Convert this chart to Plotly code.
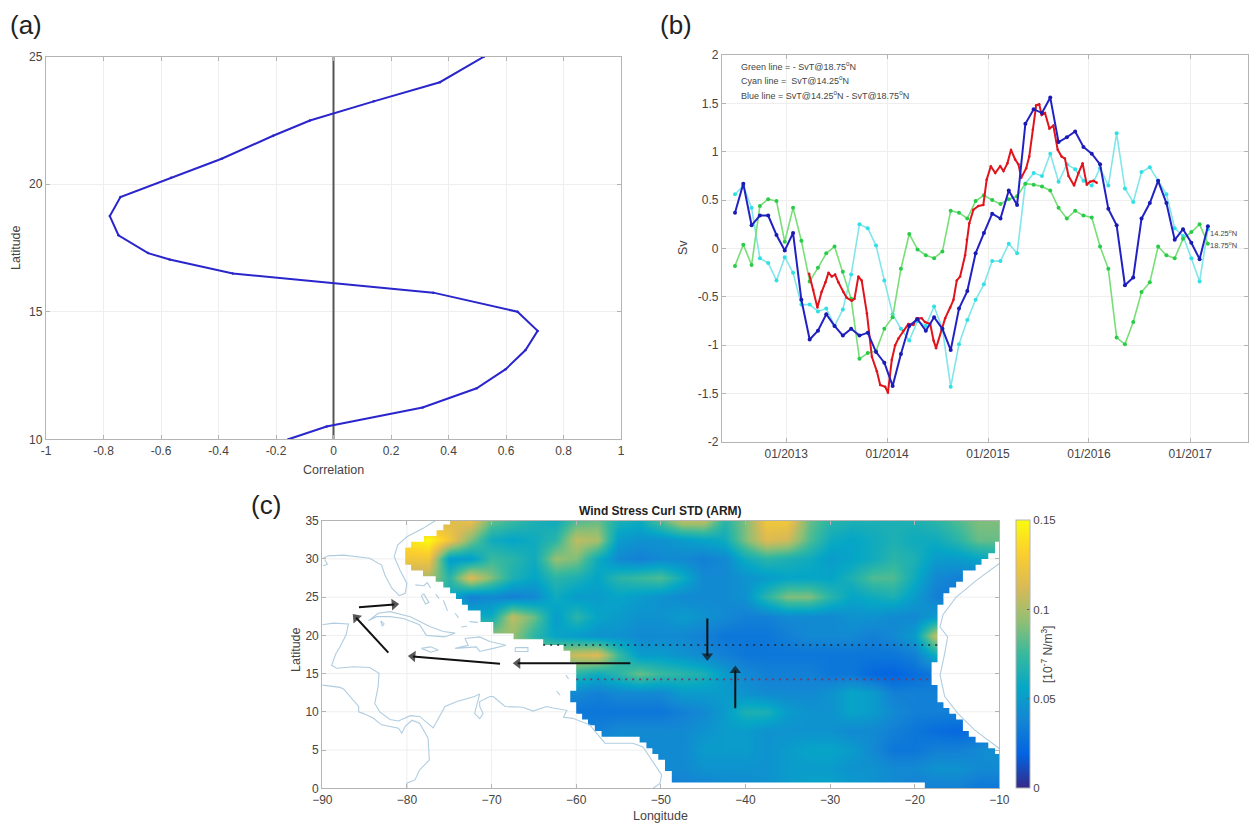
import pandas as pd
import plotly.graph_objects as go

W, H = 1251, 824
FONT = "Liberation Sans"
TXT = "#444444"

# ---------- panel (a) ----------
corr_lat = [10, 10.5, 11.25, 12, 12.75, 13.5, 14.25, 15, 15.75, 16.5, 17.05, 17.3, 18, 18.75, 19.5, 20.25, 21, 21.9, 22.5, 23.25, 24, 25]
corr_val = [-0.157, -0.024, 0.31, 0.498, 0.599, 0.668, 0.71, 0.64, 0.347, -0.35, -0.57, -0.645, -0.748, -0.778, -0.741, -0.565, -0.389, -0.21, -0.082, 0.14, 0.37, 0.523]

# ---------- panel (b) ----------
blue_sv = [0.37, 0.67, 0.24, 0.34, 0.34, 0.14, -0.02, 0.16, -0.53, -0.94, -0.85, -0.68, -0.80, -0.90, -0.83, -0.90, -0.87, -1.07, -1.18, -1.42,
           -1.09, -0.80, -0.73, -0.85, -0.71, -0.83, -1.05, -0.62, -0.44, -0.05, 0.16, 0.36, 0.31, 0.60, 0.45, 1.29, 1.44, 1.40, 1.56, 1.10,
           1.15, 1.21, 1.05, 0.98, 0.87, 0.41, 0.24, -0.38, -0.30, 0.31, 0.47, 0.70, 0.47, 0.09, 0.20, 0.06, -0.11, 0.23]
green_sv = [-0.18, 0.04, -0.17, 0.44, 0.51, 0.49, 0.07, 0.42, 0.08, -0.34, -0.20, -0.05, 0.02, -0.24, -0.52, -1.14, -1.08, -1.06, -0.83, -0.71,
            -0.21, 0.15, -0.01, -0.07, -0.10, -0.03, 0.39, 0.37, 0.31, 0.49, 0.55, 0.50, 0.46, 0.51, 0.54, 0.67, 0.66, 0.64, 0.60, 0.42,
            0.31, 0.39, 0.34, 0.32, 0.02, -0.21, -0.92, -0.99, -0.76, -0.45, -0.35, 0.02, -0.07, -0.10, 0.10, 0.17, 0.25, 0.05]
cyan_sv = [0.56, 0.65, 0.42, -0.10, -0.15, -0.33, -0.09, -0.25, -0.58, -0.58, -0.65, -0.62, -0.80, -0.63, -0.27, 0.25, 0.21, 0.03, -0.33, -0.68,
           -0.83, -0.95, -0.75, -0.80, -0.60, -0.83, -1.43, -0.99, -0.74, -0.53, -0.37, -0.13, -0.13, 0.05, -0.05, 0.67, 0.78, 0.75, 0.98, 0.69,
           0.87, 0.82, 0.70, 0.65, 0.83, 0.65, 1.19, 0.62, 0.48, 0.79, 0.84, 0.70, 0.56, 0.21, 0.13, -0.10, -0.34, 0.20]
month_dates = pd.date_range("2012-06-30", periods=len(blue_sv), freq="30D")

red_day = [83, 98, 113, 128, 142, 153, 165, 177, 189, 207, 219, 237, 247, 261, 273, 292, 310, 328, 340, 358, 368, 382, 394, 406, 424, 442, 460, 472, 490, 502,
           521, 533, 542, 563, 575, 593, 605, 617, 629, 647, 653, 662, 677, 695, 713, 725, 740, 756, 774, 786, 800, 813, 828, 840, 850, 868, 879, 892, 904, 915,
           924, 936, 952, 966, 982, 996, 1008, 1021, 1041, 1057, 1072, 1087, 1099, 1111, 1123]
red_sv = [-0.26, -0.43, -0.61, -0.45, -0.35, -0.25, -0.29, -0.27, -0.35, -0.45, -0.51, -0.54, -0.52, -0.29, -0.33, -0.67, -1.12, -1.27, -1.41, -1.43, -1.49, -1.15, -1.0, -0.93, -0.85, -0.78, -0.79, -0.72, -0.72, -0.76,
          -0.78, -0.95, -1.03, -0.84, -0.72, -0.61, -0.53, -0.33, -0.29, -0.07, 0.09, 0.26, 0.40, 0.44, 0.45, 0.71, 0.85, 0.78, 0.85, 0.80, 0.88, 1.02, 0.92, 0.87, 0.73, 0.83, 0.95, 1.23, 1.48, 1.49,
          1.38, 1.40, 1.24, 1.27, 1.02, 0.95, 0.93, 0.75, 0.65, 0.78, 0.88, 0.66, 0.69, 0.70, 0.68]
red_dates = pd.Timestamp("2013-01-01") + pd.to_timedelta(red_day, unit="D")

year_ticks = ["2013-01-01", "2014-01-01", "2015-01-01", "2016-01-01", "2017-01-01"]

# ---------- panel (c) ----------
grid_lon = [-80, -77.5, -75, -72.5, -70, -67.5, -65, -62.5, -60, -57.5, -55, -52.5, -50, -47.5, -45, -42.5, -40, -37.5, -35, -32.5, -30, -27.5, -25, -22.5, -20, -17.5, -15, -12.5, -10]
grid_lat = [0, 2.5, 5, 7.5, 10, 12.5, 15, 17.5, 20, 22.5, 25, 27.5, 30, 32.5, 35]
std_00 = [.04]*12 + [.03, .035, .035, .04, .04, .045, .05, .055, .055, .05, .045, .04, .035, .035, .035, .03, .03]
std_02 = [.04]*12 + [.04, .04, .045, .045, .045, .045, .05, .05, .05, .045, .045, .04, .04, .045, .045, .04, .04]
std_05 = [.04]*12 + [.04, .04, .05, .05, .05, .045, .05, .055, .055, .05, .04, .03, .03, .035, .035, .04, .045]
std_07 = [.035]*9 + [.035, .04, .04, .04, .04, .045, .05, .05, .045, .045, .045, .045, .04, .04, .035, .03, .025, .022, .025, .03]
std_10 = [.03]*8 + [.03, .03, .03, .03, .03, .035, .04, .05, .065, .065, .05, .045, .045, .055, .05, .04, .035, .035, .035, .035, .035]
std_12 = [.04]*7 + [.04, .04, .035, .04, .04, .04, .05, .05, .05, .045, .04, .04, .04, .045, .055, .05, .035, .035, .035, .04, .04, .04]
std_15 = [.06]*7 + [.06, .07, .06, .07, .085, .075, .07, .065, .05, .04, .035, .035, .035, .03, .03, .022, .02, .025, .03, .03, .03, .03]
std_17 = [.1]*7 + [.1, .11, .115, .075, .05, .05, .045, .04, .035, .03, .03, .03, .03, .03, .03, .03, .03, .035, .06, .06, .06, .06]
std_20 = [.095]*5 + [.095, .07, .055, .05, .045, .045, .04, .04, .04, .035, .03, .03, .03, .035, .04, .04, .04, .035, .04, .05, .105, .1, .1, .1]
std_22 = [.06]*5 + [.105, .085, .05, .07, .055, .05, .045, .045, .05, .045, .04, .035, .035, .04, .04, .04, .045, .045, .04, .04, .05, .05, .05, .05]
std_25 = [.08, .08, .06, .035, .04, .035, .04, .06, .05, .05, .055, .05, .045, .04, .04, .04, .045, .07, .09, .09, .07, .055, .06, .065, .05, .035, .03, .03, .03]
std_27 = [.1, .1, .07, .115, .09, .065, .055, .07, .065, .055, .07, .075, .08, .06, .04, .04, .045, .05, .055, .055, .055, .065, .08, .08, .06, .04, .035, .035, .04]
std_30 = [.125, .125, .05, .05, .075, .07, .06, .095, .09, .06, .04, .035, .04, .04, .035, .04, .06, .07, .065, .06, .05, .055, .06, .07, .065, .05, .05, .055, .06]
std_32 = [.14, .15, .125, .09, .06, .055, .06, .07, .105, .10, .05, .045, .045, .05, .055, .06, .09, .115, .11, .08, .06, .055, .06, .065, .06, .06, .07, .085, .085]
std_35 = [.11, .11, .115, .12, .085, .075, .065, .06, .08, .085, .065, .06, .08, .105, .105, .07, .09, .125, .125, .085, .07, .065, .065, .065, .065, .07, .08, .09, .09]
std_grid = [std_00, std_02, std_05, std_07, std_10, std_12, std_15, std_17, std_20, std_22, std_25, std_27, std_30, std_32, std_35]
std_ticks = [0, 0.05, 0.1, 0.15]
parula = ["#352a87", "#0363e1", "#1485d4", "#06a7c6", "#38b99e", "#92bf73", "#d9ba56", "#fcce2e", "#f9fb0e"]

# white land mask: each row of the 0.75 degree grid (upper latitude edge, edge longitude)
west_top = [35.25, 34.5, 33.75, 33, 32.25, 31.5, 29.25, 28.5, 27.75, 27, 26.25, 25.5, 24.75, 24, 23.25, 21.75, 20.25, 19.5, 18.75, 18, 16.5, 12.75, 11.25, 9.75, 9, 8.25, 7.5, 6.75, 6, 5.25, 4.5, 3.75, 2.25, 0.75]
west_lon = [-74.9, -75.7, -76.5, -78, -79.5, -80.2, -79.5, -78.1, -76.6, -75.7, -74.9, -74.2, -73.5, -72.8, -71.3, -69.8, -67.4, -63.9, -61.5, -60.7, -60, -60.7, -60, -59.3, -58.6, -57.8, -57, -52.5, -51.7, -51, -50.3, -49.5, -48.7, -18.8]
east_top = [32.25, 30.75, 30, 29.25, 28.5, 27, 26.25, 25.5, 24, 16.5, 13.5, 11.25, 10.5, 9.75, 9, 7.5, 6.75, 6, 5.25]
east_lon = [-10.5, -11.3, -12.1, -12.8, -14.3, -15.1, -15.9, -16.6, -17.3, -18, -17.3, -16.6, -15.9, -15.1, -14.3, -13.6, -12.8, -11.3, -10.5]
east_bottom = 4.5

coast_segments = [
    [(-76.5, 35.1), (-78.1, 34), (-80, 32.9), (-81.1, 31.8), (-81.5, 30.3), (-80.8, 28.5), (-80, 26.8), (-80.2, 25.5), (-80.9, 25.2), (-81.8, 26.2), (-82.6, 27.9), (-83, 29.2), (-84.4, 30.1), (-86, 30.3), (-87.5, 30.5), (-89.3, 30.4), (-89.9, 30.1)],
    [(-89.7, 29.9), (-89.4, 29.3), (-89.9, 29.1)],
    [(-90, 21.4), (-88.7, 21.6), (-86.9, 21.5), (-87.2, 20.05), (-87.9, 18.5), (-88.4, 17.6), (-88.9, 16.1), (-88.3, 15.7), (-86.3, 15.9), (-84.4, 15.8), (-83.3, 15.05), (-83.4, 13.3), (-83.8, 11.1), (-83.2, 10.0), (-82, 9.0), (-81, 8.8), (-79.6, 9.5), (-78.5, 9.4), (-76.9, 7.9), (-75.5, 10.7), (-74.1, 11.35), (-72, 12), (-71.4, 12.35), (-71.8, 10.7), (-72, 9.8), (-71.4, 9.1), (-71, 9.8), (-71.4, 10.7), (-71.4, 11.35), (-70.2, 12), (-69.8, 12), (-68.4, 10.7), (-66.3, 10.6), (-65.1, 10.1), (-63.5, 10.7), (-62.7, 10.5), (-61.1, 10.2), (-61.5, 9.3), (-60.4, 9.15), (-58.4, 8.3), (-56.6, 5.9), (-53.3, 5.9), (-52.1, 5.4), (-49.9, 1.75), (-50.1, 0.65), (-50.9, 0)],
    [(-90, 13.5), (-87.9, 13.2), (-87.5, 13), (-85.7, 10.7), (-85.7, 10), (-85.2, 9.8), (-84, 9.2), (-83, 8.3), (-81, 7.85), (-80.6, 7.2), (-80.2, 8.1), (-79.4, 8.9), (-78.5, 8.5), (-77.5, 6.55), (-77.35, 3.7), (-78.5, 2.4), (-79.05, 1.1), (-80, 0.67), (-80, 0)],
    [(-10, 29.4), (-12.7, 27.2), (-15.1, 25), (-16.65, 22.7), (-17, 21.1), (-16.1, 19.8), (-16.45, 17.65), (-17, 14.8), (-16.45, 12), (-14.9, 9.8), (-12.9, 7.6), (-10, 5.2)],
    [(-84.56, 21.9), (-83.4, 22.9), (-82, 23.1), (-79.6, 22.45), (-77.3, 21.15), (-75.7, 20.5), (-74.3, 20.3), (-75.5, 19.8), (-77.7, 20), (-78.5, 21.4), (-80.4, 22.2), (-82, 22.45), (-83.6, 22.45), (-84.56, 21.9)],
    [(-78.3, 18.3), (-77.2, 18.5), (-76.3, 18.1), (-77.2, 17.8), (-78.3, 18.3)],
    [(-73.15, 19.6), (-71.4, 19.8), (-70.2, 19.2), (-68.3, 18.7), (-69.8, 18.3), (-71.4, 17.9), (-71.8, 18.5), (-74.3, 18.3), (-72.75, 18.7), (-73.15, 19.6)],
    [(-67.2, 18.4), (-65.7, 18.4), (-65.7, 17.9), (-67.2, 17.9), (-67.2, 18.4)],
    [(-79, 26.6), (-78, 26.5), (-77.6, 26.9), (-77.2, 26.2)],
    [(-78.3, 25.2), (-77.8, 24.1), (-77.4, 24.3), (-78, 25.4), (-78.3, 25.2)],
    [(-76.6, 25.4), (-76.2, 24.8)],
    [(-75.7, 24.6), (-75.2, 23.2)],
    [(-74.3, 22.9), (-73.9, 22.3)],
    [(-72.6, 21.8), (-71.6, 21.7)],
    [(-73.6, 21.1), (-72.9, 21.2)],
    [(-83.1, 21.9), (-82.7, 21.5), (-82.9, 21.2), (-83.1, 21.9)],
    [(-61.2, 14.8), (-60.9, 14.3)],
    [(-62.3, 12.7), (-61.9, 12.2)],
]

wind_arrows = [
    (-85.67, 23.67, -81.5, 24.05),
    (-82.2, 17.74, -86.0, 22.3),
    (-69.0, 16.3, -79.3, 17.25),
    (-53.6, 16.35, -66.9, 16.35),
    (-44.5, 22.2, -44.5, 17.3),
    (-41.2, 10.46, -41.2, 15.4),
]
section_north = (18.75, -63.9, -17.3)
section_south = (14.25, -60.0, -18.0)


def dom_x(a, b):
    return [a / W, b / W]


def dom_y(top, bottom):
    return [1 - bottom / H, 1 - top / H]


def stairs(tops, lons, last_bottom):
    pts = []
    for i, (t, ln) in enumerate(zip(tops, lons)):
        b = tops[i + 1] if i + 1 < len(tops) else last_bottom
        pts += [(ln, t), (ln, b)]
    return pts


def row_edge(lat, tops, lons, last_bottom):
    for i, t in enumerate(tops):
        b = tops[i + 1] if i + 1 < len(tops) else last_bottom
        if b <= lat < t:
            return lons[i]
    return None


fig = go.Figure()

# (a)
fig.add_trace(go.Scatter(x=[0, 0], y=[10, 25], mode="lines", line=dict(color="#555555", width=2), xaxis="x", yaxis="y", showlegend=False))
fig.add_trace(go.Scatter(x=corr_val, y=corr_lat, mode="lines+markers", line=dict(color="#2a26cc", width=2), marker=dict(size=2.5, color="#2a26cc"), xaxis="x", yaxis="y", showlegend=False))

# (b)
fig.add_trace(go.Scatter(x=month_dates, y=cyan_sv, mode="lines+markers", line=dict(color="#80e6ea", width=1.6), marker=dict(size=4, color="#2fe0e4"), xaxis="x2", yaxis="y2", showlegend=False))
fig.add_trace(go.Scatter(x=month_dates, y=green_sv, mode="lines+markers", line=dict(color="#78de78", width=1.6), marker=dict(size=4, color="#28cc48"), xaxis="x2", yaxis="y2", showlegend=False))
fig.add_trace(go.Scatter(x=red_dates, y=red_sv, mode="lines+markers", line=dict(color="#e0141c", width=2), marker=dict(size=2.5, color="#e0141c"), xaxis="x2", yaxis="y2", showlegend=False))
fig.add_trace(go.Scatter(x=month_dates, y=blue_sv, mode="lines+markers", line=dict(color="#2222c4", width=2), marker=dict(size=4, color="#1a1ab4"), xaxis="x2", yaxis="y2", showlegend=False))

# (c)
fig.add_trace(go.Heatmap(
    x=grid_lon, y=grid_lat, z=std_grid, zmin=0, zmax=0.15, zsmooth="best",
    colorscale=[[i / (len(parula) - 1), c] for i, c in enumerate(parula)],
    xaxis="x3", yaxis="y3",
    colorbar=dict(
        x=1015.7 / W, xanchor="left", xpad=0, y=1 - 788.3 / H, yanchor="bottom", ypad=0,
        lenmode="pixels", len=267.6, thickness=14, thicknessmode="pixels",
        tickvals=std_ticks, ticktext=["0", "0.05", "0.1", "0.15"], ticks="inside", ticklen=3, tickcolor="#666666",
        tickfont=dict(family=FONT, size=11.5, color=TXT), outlinecolor="#b4b4b4", outlinewidth=1,
        title=dict(text="[10<sup>-7</sup> N/m<sup>3</sup>]", side="right", font=dict(family=FONT, size=12, color=TXT)),
    ),
))
west_poly = [(-90, 35.25)] + stairs(west_top, west_lon, 0) + [(-90, 0)]
east_poly = [(-10, 32.25)] + stairs(east_top, east_lon, east_bottom) + [(-10, east_bottom)]
for poly in (west_poly, east_poly):
    fig.add_trace(go.Scatter(x=[p[0] for p in poly], y=[p[1] for p in poly], mode="lines", fill="toself", fillcolor="white",
                             line=dict(width=0, color="white"), xaxis="x3", yaxis="y3", showlegend=False, hoverinfo="skip"))

# grid lines over the white land, rebuilt from the mask rows
gx, gy = [], []
for lat in [5, 10, 15, 20, 25, 30]:
    w = row_edge(lat, west_top, west_lon, 0)
    gx += [-90, w, None]
    gy += [lat, lat, None]
    e = row_edge(lat, east_top, east_lon, east_bottom)
    if e is not None:
        gx += [e, -10, None]
        gy += [lat, lat, None]
for lon in [-80, -70, -60]:
    for i, (t, ln) in enumerate(zip(west_top, west_lon)):
        if ln > lon:
            b = west_top[i + 1] if i + 1 < len(west_top) else 0
            gx += [lon, lon, None]
            gy += [t, b, None]
fig.add_trace(go.Scatter(x=gx, y=gy, mode="lines", line=dict(color="#eeeeee", width=1), xaxis="x3", yaxis="y3", showlegend=False, hoverinfo="skip"))

cx, cy = [], []
for seg in coast_segments:
    cx += [p[0] for p in seg] + [None]
    cy += [p[1] for p in seg] + [None]
fig.add_trace(go.Scatter(x=cx, y=cy, mode="lines", line=dict(color="#b0cde0", width=1.1), xaxis="x3", yaxis="y3", showlegend=False, hoverinfo="skip"))

for (lat, l0, l1), col in ((section_north, "#1a2a3a"), (section_south, "#7a3a66")):
    fig.add_trace(go.Scatter(x=[l0, l1], y=[lat, lat], mode="lines", line=dict(color=col, width=1.6, dash="2px,5px"), xaxis="x3", yaxis="y3", showlegend=False, hoverinfo="skip"))

for x0, y0, x1, y1 in wind_arrows:
    fig.add_trace(go.Scatter(x=[x0, x1], y=[y0, y1], mode="lines+markers", line=dict(color="#111111", width=2),
                             marker=dict(symbol="triangle-up", angleref="previous", size=[0, 10], color="#111111", line=dict(width=0)),
                             xaxis="x3", yaxis="y3", showlegend=False, hoverinfo="skip"))

axis_common = dict(showline=True, linecolor="#b4b4b4", linewidth=1.3, mirror="ticks", ticks="inside", ticklen=4, tickcolor="#b4b4b4",
                   showgrid=True, gridcolor="#eeeeee", gridwidth=1, zeroline=False,
                   tickfont=dict(family=FONT, size=12, color=TXT))

fig.update_layout(
    width=W, height=H, autosize=False, margin=dict(l=0, r=0, t=0, b=0, pad=0, autoexpand=False), paper_bgcolor="white", plot_bgcolor="white", showlegend=False,
    xaxis=dict(axis_common, domain=dom_x(46, 621), range=[-1, 1], tickvals=[-1, -0.8, -0.6, -0.4, -0.2, 0, 0.2, 0.4, 0.6, 0.8, 1], ticktext=["-1", "-0.8", "-0.6", "-0.4", "-0.2", "0", "0.2", "0.4", "0.6", "0.8", "1"], anchor="y"),
    yaxis=dict(axis_common, domain=dom_y(56.7, 439.3), range=[10, 25], tickvals=[10, 15, 20, 25], anchor="x"),
    xaxis2=dict(axis_common, domain=dom_x(722, 1248), range=["2012-05-14", "2017-07-29"], tickvals=year_ticks, tickformat="%m/%Y", anchor="y2"),
    yaxis2=dict(axis_common, domain=dom_y(55, 442), range=[-2, 2], tickvals=[-2, -1.5, -1, -0.5, 0, 0.5, 1, 1.5, 2], ticktext=["-2", "-1.5", "-1", "-0.5", "0", "0.5", "1", "1.5", "2"], anchor="x2"),
    xaxis3=dict(axis_common, domain=dom_x(322.3, 999.3), range=[-90, -10], tickvals=list(range(-90, 0, 10)), anchor="y3"),
    yaxis3=dict(axis_common, domain=dom_y(520.7, 788.3), range=[0, 35], tickvals=list(range(0, 40, 5)), anchor="x3"),
)

annots = []


def label(text, px, py, size=12.5, color=TXT, xanchor="center", angle=0, family=FONT):
    annots.append(dict(text=text, x=px / W, y=1 - py / H, xref="paper", yref="paper", showarrow=False, xanchor=xanchor, yanchor="middle",
                       textangle=angle, font=dict(family=family, size=size, color=color)))


label("(a)", 8, 25, size=26, color="#222222", xanchor="left")
label("(b)", 658, 25, size=26, color="#222222", xanchor="left")
label("(c)", 249, 505, size=26, color="#222222", xanchor="left")
label("Correlation", 333, 470)
label("Latitude", 16, 248, angle=-90)
label("Sv", 683, 248, angle=-90)
label("Latitude", 296, 650, angle=-90)
label("Longitude", 660, 816)
label("<b>Wind Stress Curl STD (ARM)</b>", 660, 511, size=12, color="#222222")
label("Green line = - SvT@18.75<sup>o</sup>N", 739, 66, size=9, xanchor="left")
label("Cyan line =  SvT@14.25<sup>o</sup>N", 739, 80, size=9, xanchor="left")
label("Blue line = SvT@14.25<sup>o</sup>N - SvT@18.75<sup>o</sup>N", 739, 95, size=9, xanchor="left")
label("14.25<sup>o</sup>N", 1208, 233, size=7.5, xanchor="left")
label("18.75<sup>o</sup>N", 1208, 245, size=7.5, xanchor="left")
fig.update_layout(annotations=annots)

fig.write_html("out.html", config={"displayModeBar": False},
               post_script="document.body.style.margin='0';document.documentElement.style.overflow='hidden';")
